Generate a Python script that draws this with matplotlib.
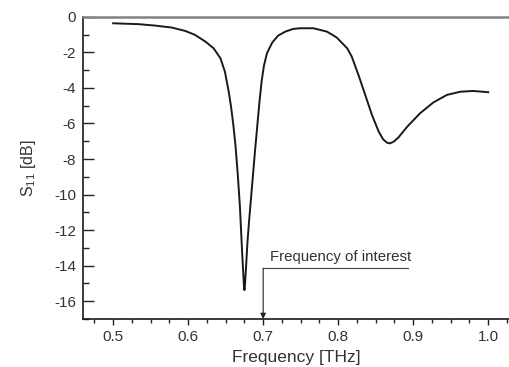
import matplotlib
matplotlib.use("Agg")
import matplotlib.pyplot as plt
from matplotlib.ticker import MultipleLocator

plt.rcParams['font.family'] = ['Liberation Sans', 'DejaVu Sans']
plt.rcParams['mathtext.fontset'] = 'custom'
plt.rcParams['mathtext.rm'] = 'Liberation Sans'
plt.rcParams['axes.unicode_minus'] = False

freq = [0.500, 0.534, 0.556, 0.578, 0.596, 0.609, 0.623, 0.634, 0.643, 0.649,
        0.654, 0.657, 0.660, 0.663, 0.666, 0.669, 0.672, 0.6743, 0.675, 0.6757,
        0.677, 0.679, 0.681, 0.683, 0.686, 0.689, 0.692, 0.695, 0.698, 0.701,
        0.705, 0.712, 0.720, 0.730, 0.740, 0.749, 0.767, 0.785, 0.798, 0.812,
        0.818, 0.827, 0.836, 0.845, 0.854, 0.860, 0.865, 0.869, 0.874, 0.880,
        0.892, 0.909, 0.927, 0.945, 0.963, 0.980, 1.000]
s11 = [-0.36, -0.41, -0.49, -0.60, -0.79, -1.01, -1.39, -1.77, -2.33, -3.08,
       -4.20, -5.00, -6.00, -7.20, -8.80, -10.69, -13.30, -15.10, -15.38, -15.10,
       -14.20, -12.70, -11.60, -10.60, -9.10, -7.60, -6.20, -4.80, -3.60, -2.75,
       -2.05, -1.45, -1.05, -0.82, -0.68, -0.64, -0.64, -0.83, -1.16, -1.77,
       -2.23, -3.27, -4.39, -5.52, -6.46, -6.90, -7.08, -7.12, -7.02, -6.80,
       -6.18, -5.43, -4.81, -4.39, -4.21, -4.17, -4.24]

xticks = [0.5, 0.6, 0.7, 0.8, 0.9, 1.0]
yticks = [0, -2, -4, -6, -8, -10, -12, -14, -16]
annot_text = "Frequency of interest"
annot_freq = 0.7

fig = plt.figure(figsize=(5.10, 3.67), dpi=100)
ax = fig.add_axes([0.163, 0.131, 0.837, 0.823])
ax.plot(freq, s11, color='#1a1a1a', lw=1.4, solid_joinstyle='round')

ax.set_xlim(0.46, 1.029)
ax.set_ylim(-17, 0)
ax.set_xticks(xticks)
ax.set_xticklabels([f"{v:.1f}" for v in xticks])
ax.set_yticks(yticks)
ax.set_yticklabels([str(v) for v in yticks])
ax.xaxis.set_minor_locator(MultipleLocator(0.025))
ax.yaxis.set_minor_locator(MultipleLocator(1))

ax.tick_params(axis='y', which='major', direction='in', length=8, width=1.0, labelsize=11, pad=5, colors='#222', labelcolor='#333')
ax.tick_params(axis='y', which='minor', direction='in', length=4, width=1.0, colors='#222')
ax.tick_params(axis='x', which='major', direction='out', length=4, width=1.0, labelsize=11, pad=4, colors='#222', labelcolor='#333')
ax.tick_params(axis='x', which='minor', direction='out', length=3, width=1.0, colors='#222')

ax.spines['right'].set_visible(False)
ax.spines['top'].set_color('#7d848b')
ax.spines['top'].set_linewidth(1.8)
for sp in ('left', 'bottom'):
    ax.spines[sp].set_color('#1a1a1a')
    ax.spines[sp].set_linewidth(1.2)

ax.set_xlabel("Frequency [THz]", fontsize=12.5, color='#333', labelpad=4)
ax.set_ylabel("S$_{\\rm 11}$ [dB]", fontsize=11.5, color='#333', labelpad=12)

# annotation
ax.plot([annot_freq, 0.893], [-14.14, -14.14], color='#444', lw=0.8)
ax.annotate("", xy=(annot_freq, -17), xytext=(annot_freq, -14.14),
            arrowprops=dict(arrowstyle='-|>', color='#222', lw=0.8,
                            mutation_scale=8, shrinkA=0, shrinkB=0))
ax.text(0.709, -13.75, annot_text, fontsize=10.8, color='#333', va='baseline', ha='left')

fig.savefig("out.png", dpi=100)
